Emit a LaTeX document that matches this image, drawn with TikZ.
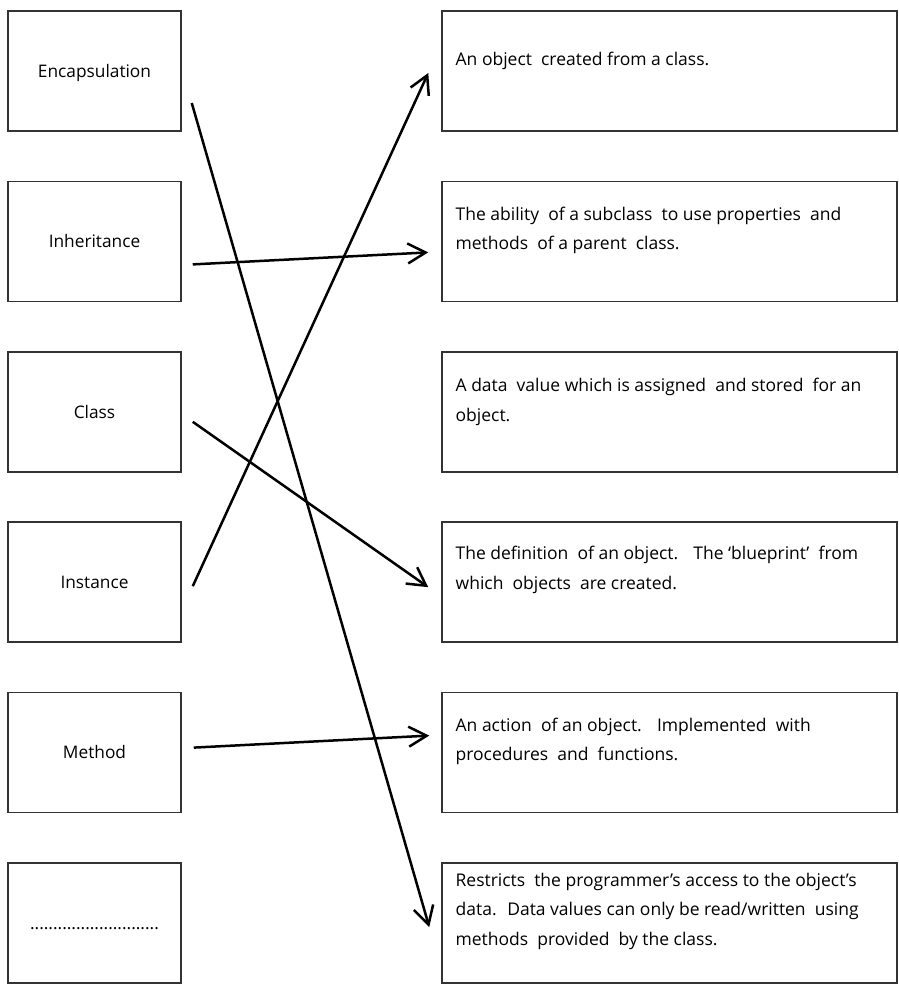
\documentclass[tikz,border=0pt]{standalone}
\usepackage{fontspec}
\setmainfont{Open Sans}
\usetikzlibrary{positioning,calc,arrows.meta}
\tikzset{every path/.style={thick}}
\tikzset{
  term/.style={draw=black!80,line width=1.5pt,minimum width=173pt,minimum height=120pt,
    inner sep=0pt,text height=12.5pt,text depth=0pt,font=\fontsize{17.3}{30}\selectfont},
  defn/.style={draw=black!80,line width=1.5pt,minimum width=455pt,minimum height=120pt,inner sep=0pt},
  deftext/.style={anchor=base west,align=left,inner sep=0pt,font=\fontsize{17.5}{29.5}\selectfont},
  link/.style={-{Straight Barb[length=18pt,width=20pt]},line width=2.5pt}
}

\begin{document}
\begin{tikzpicture}[x=1pt,y=1pt]
\useasboundingbox (0,0) rectangle (898,-990);
% terms
\node[term] (enc) at (94.5,-71) {Encapsulation};
\node[term,below=48.9pt of enc] (inh) {Inheritance};
\node[term,below=48.9pt of inh] (cls) {Class};
\node[term,below=48.9pt of cls] (ins) {Instance};
\node[term,below=48.9pt of ins] (met) {Method};
\node[term,below=48.9pt of met] (dots) {............................};
% definitions
\node[defn,right=259.5pt of enc] (d1) {};
\node[defn,right=259.5pt of inh] (d2) {};
\node[defn,right=259.5pt of cls] (d3) {};
\node[defn,right=259.5pt of ins] (d4) {};
\node[defn,right=259.5pt of met] (d5) {};
\node[defn,right=259.5pt of dots] (d6) {};
\node[deftext] (d1txt) at ($(d1.north west)+(14,-55)$) {An object~ created from a class.};
\node[deftext] (d2txt) at ($(d2.north west)+(14,-69)$) {The ability~ of a subclass~ to use properties~ and\\methods~ of a parent~ class.};
\node[deftext] (d3txt) at ($(d3.north west)+(14,-70)$) {A data~ value which is assigned~ and stored~ for an\\object.};
\node[deftext] (d4txt) at ($(d4.north west)+(14,-68)$) {The definition~ of an object.~~ The `blueprint'~ from\\which~ objects~ are created.};
\node[deftext] (d5txt) at ($(d5.north west)+(14,-69)$) {An action~ of an object.~~ Implemented~ with\\procedures~ and~ functions.};
\node[deftext] (d6txt) at ($(d6.north west)+(14,-83)$) {Restricts~ the programmer's access to the object's\\data.~ Data values can only be read/written~ using\\methods~ provided~ by the class.};
% links
\draw[link] ($(enc.east)+(10,-32)$) -- ($(d6.west)+(-12,-4)$);
\draw[link] ($(inh.east)+(11,-23)$) -- ($(d2.west)+(-13,-11)$);
\draw[link] ($(cls.east)+(11,-10)$) -- ($(d4.west)+(-13,-5)$);
\draw[link] ($(ins.east)+(11,-4)$) -- ($(d1.west)+(-13,-2)$);
\draw[link] ($(met.east)+(12,5)$) -- ($(d5.west)+(-12,17)$);
\end{tikzpicture}
\end{document}
